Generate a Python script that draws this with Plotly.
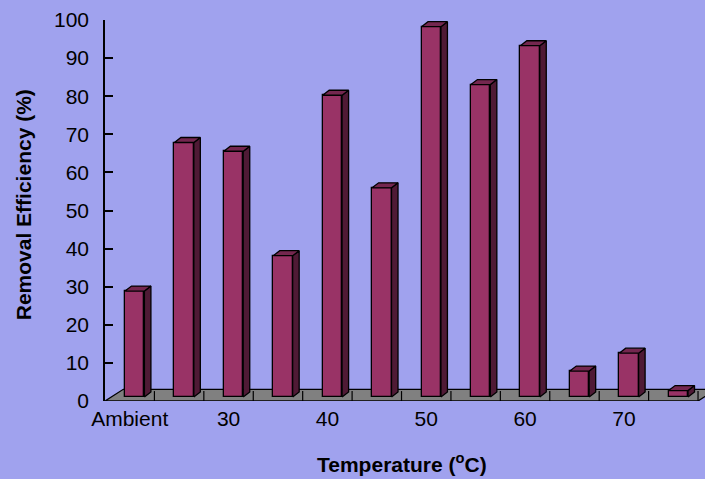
import plotly.graph_objects as go

# ---- data ----
categories = ["Ambient", "25", "30", "35", "40", "45", "50", "55", "60", "65", "70", "75"]
removal_efficiency = [27.8, 66.8, 64.5, 37.1, 79.2, 54.9, 97.2, 82.0, 92.2, 6.8, 11.5, 1.7]
x_tick_labels = ["Ambient", "30", "40", "50", "60", "70"]
y_tick_values = [0, 10, 20, 30, 40, 50, 60, 70, 80, 90, 100]

# ---- style / pseudo-3D geometry (in axis units) ----
PX_X = 600 / 12.141          # px per category unit
PX_Y = 381.5 / 100           # px per percent
bar_shift = 5.0 / PX_X        # bars sit behind the front plane
bar_base = 4.0 / PX_Y
bar_w = 19.4 / PX_X
ddx = 6.5 / PX_X              # bar depth
ddy = 5.0 / PX_Y
fdx = 18.3 / PX_X             # floor depth
fdy = 11.7 / PX_Y

FRONT = "#993366"
SIDE = "#4f1a35"
TOP = "#74274f"
BG = "#a0a2ee"

n = len(categories)
xs = [i + bar_shift for i in range(n)]

fig = go.Figure()

sx, sy = [], []
tx, ty = [], []
for x, v in zip(xs, removal_efficiency):
    xl, xr = x - bar_w / 2, x + bar_w / 2
    b, t = bar_base, bar_base + v
    sx += [xr, xr + ddx, xr + ddx, xr, xr, None]
    sy += [b, b + ddy, t + ddy, t, b, None]
    tx += [xl, xr, xr + ddx, xl + ddx, xl, None]
    ty += [t, t, t + ddy, t + ddy, t, None]

fig.add_trace(go.Bar(
    x=xs, y=removal_efficiency, base=bar_base, width=bar_w,
    marker=dict(color=FRONT, line=dict(color="black", width=1.3)),
    hoverinfo="skip", showlegend=False))
fig.add_trace(go.Scatter(x=sx, y=sy, mode="lines", fill="toself", fillcolor=SIDE,
                         line=dict(color="black", width=1.3), hoverinfo="skip", showlegend=False))
fig.add_trace(go.Scatter(x=tx, y=ty, mode="lines", fill="toself", fillcolor=TOP,
                         line=dict(color="black", width=1.3), hoverinfo="skip", showlegend=False))

# floor (below traces)
x0, x1 = -0.5, n - 0.5
floor_path = (f"M {x0},0 L {x1},0 L {x1 + fdx},{fdy} L {x0 + fdx},{fdy} Z")
shapes = [dict(type="path", path=floor_path, xref="x", yref="y", layer="below",
               fillcolor="#808080", line=dict(color="black", width=1.3))]
for i in range(n):
    xb = i + 0.5
    shapes.append(dict(type="line", xref="x", yref="y", layer="below",
                       x0=xb, x1=xb, y0=0, y1=fdy * 0.85,
                       line=dict(color="black", width=1.2)))

FONT = "Liberation Sans, Arial, sans-serif"

fig.update_layout(
    width=705, height=479,
    margin=dict(l=105, r=0, t=19.5, b=78),
    paper_bgcolor=BG, plot_bgcolor=BG,
    font=dict(family=FONT, color="black", size=21),
    bargap=0, shapes=shapes,
    xaxis=dict(range=[-0.5, 11.641], showgrid=False, zeroline=False, showline=False,
               tickmode="array", tickvals=[0, 2, 4, 6, 8, 10], ticktext=x_tick_labels,
               ticks="", tickfont=dict(size=21), ticklabelstandoff=3),
    yaxis=dict(range=[0, 100], showgrid=False, zeroline=False, showline=True,
               linecolor="black", linewidth=1.5, ticks="inside", ticklen=8,
               tickcolor="black", tickwidth=1.5, tickvals=y_tick_values,
               tickfont=dict(size=21), ticklabelstandoff=10),
    annotations=[
        dict(text="<b>Temperature (<sup>o</sup>C)</b>", xref="paper", yref="paper",
             x=(401.5 - 105) / 600, y=(401 - 463) / 381.5, xanchor="center", yanchor="middle",
             showarrow=False, font=dict(size=21, family=FONT)),
        dict(text="<b>Removal Efficiency (%)</b>", xref="paper", yref="paper",
             x=(23 - 105) / 600, y=(401 - 205) / 381.5, xanchor="center", yanchor="middle",
             textangle=-90, showarrow=False, font=dict(size=21, family=FONT)),
    ],
)

fig.write_html("out.html", config={"displayModeBar": False},
               post_script="document.body.style.margin='0';")
